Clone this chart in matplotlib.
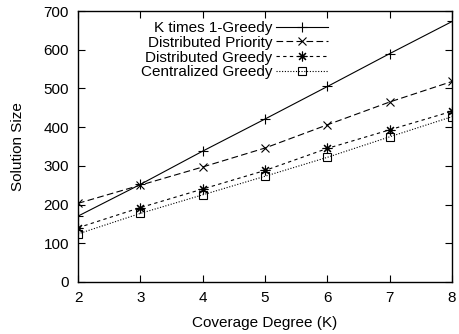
import matplotlib
matplotlib.use('Agg')
import matplotlib.pyplot as plt

plt.rcParams['font.family'] = ['Liberation Sans', 'DejaVu Sans']
plt.rcParams['font.size'] = 11

k = [2, 3, 4, 5, 6, 7, 8]
k_times_greedy = [170, 252, 338, 421, 505, 590, 673]
dist_priority = [203, 250, 297, 346, 406, 465, 518]
dist_greedy = [140, 192, 240, 288, 345, 393, 441]
central_greedy = [124, 177, 225, 273, 322, 375, 427]

fig = plt.figure(figsize=(4.59, 3.34), dpi=100)
ax = fig.add_axes([0.170, 0.156, 0.815, 0.811])

ax.plot(k, k_times_greedy, color='black', lw=0.8, ls='-', marker='+',
        ms=7, mew=0.8, label='K times 1-Greedy')
ax.plot(k, dist_priority, color='black', lw=0.8, ls=(0, (6, 3)), marker='x',
        ms=6, mew=0.8, label='Distributed Priority')
ax.plot(k, dist_greedy, color='black', lw=0.8, ls=(0, (3, 3)), marker=(8, 2, 0),
        ms=7, mew=0.8, label='Distributed Greedy')
ax.plot(k, central_greedy, color='black', lw=0.8, ls=(0, (1, 1.5)), marker='s',
        ms=6, mew=0.8, mfc='none', label='Centralized Greedy')

ax.set_xlim(2, 8)
ax.set_ylim(0, 700)
ax.set_xticks(k)
ax.set_yticks(range(0, 701, 100))
ax.tick_params(direction='in', top=True, right=True, length=5, width=0.8, pad=6.5)
for s in ax.spines.values():
    s.set_linewidth(1.0)

ax.set_xlabel('Coverage Degree (K)', labelpad=8)
ax.set_ylabel('Solution Size', labelpad=13.5)

ax.legend(loc='upper right', bbox_to_anchor=(0.668, 0.963), frameon=False,
          markerfirst=False, handlelength=3.4, handletextpad=0.25,
          labelspacing=0.05, borderpad=0, borderaxespad=0)

fig.savefig('out.png', dpi=100)
